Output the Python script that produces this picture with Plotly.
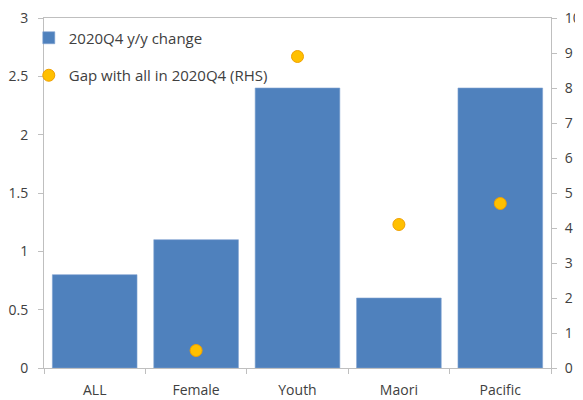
import plotly.graph_objects as go

# categories and series
groups = ["ALL", "Female", "Youth", "Maori", "Pacific"]
yy_change = [0.8, 1.1, 2.4, 0.6, 2.4]
gap_with_all = [None, 0.5, 8.9, 4.1, 4.7]

axis_grey = "#BFBFBF"
text_col = "#404040"

fig = go.Figure()

fig.add_trace(go.Bar(
    x=groups,
    y=yy_change,
    name="2020Q4 y/y change",
    marker=dict(color="#4F81BD", line=dict(color="#7FA3D1", width=0.6)),
    legendgroup="a",
))

fig.add_trace(go.Scatter(
    x=groups,
    y=gap_with_all,
    name="Gap with all in 2020Q4 (RHS)",
    mode="markers",
    marker=dict(color="#FFC000", size=12, line=dict(color="#F0A000", width=1)),
    yaxis="y2",
    legendgroup="b",
))

# the page body adds an 8px margin, so the figure is drawn 8px smaller
fig.update_layout(
    width=575,
    height=392,
    margin=dict(l=36, r=32, t=10, b=32),
    paper_bgcolor="white",
    plot_bgcolor="white",
    font=dict(family="Open Sans", size=14, color=text_col),
    bargap=0.165,
    showlegend=True,
    legend=dict(
        x=-0.03, y=0.99, xanchor="left", yanchor="top",
        bgcolor="rgba(0,0,0,0)",
        traceorder="grouped",
        tracegroupgap=15,
        font=dict(size=15, color=text_col),
        itemwidth=30,
    ),
    xaxis=dict(
        automargin=False,
        showline=True, linecolor=axis_grey, linewidth=1, mirror=True,
        ticks="outside", tickson="boundaries", ticklen=5, tickcolor=axis_grey,
        ticklabelstandoff=9,
        showgrid=False,
    ),
    yaxis=dict(
        automargin=False,
        range=[0, 3], dtick=0.5, showgrid=False, zeroline=False,
        showline=True, linecolor=axis_grey, linewidth=1,
        ticks="outside", ticklen=5, tickcolor=axis_grey,
        ticklabelstandoff=7, ticklabeloverflow="allow",
    ),
    yaxis2=dict(
        automargin=False,
        range=[0, 10], dtick=1, overlaying="y", side="right",
        showgrid=False, zeroline=False,
        showline=True, linecolor=axis_grey, linewidth=1,
        ticks="outside", ticklen=5, tickcolor=axis_grey,
        ticklabelstandoff=5, ticklabeloverflow="allow",
    ),
)

fig.write_html("out.html")
